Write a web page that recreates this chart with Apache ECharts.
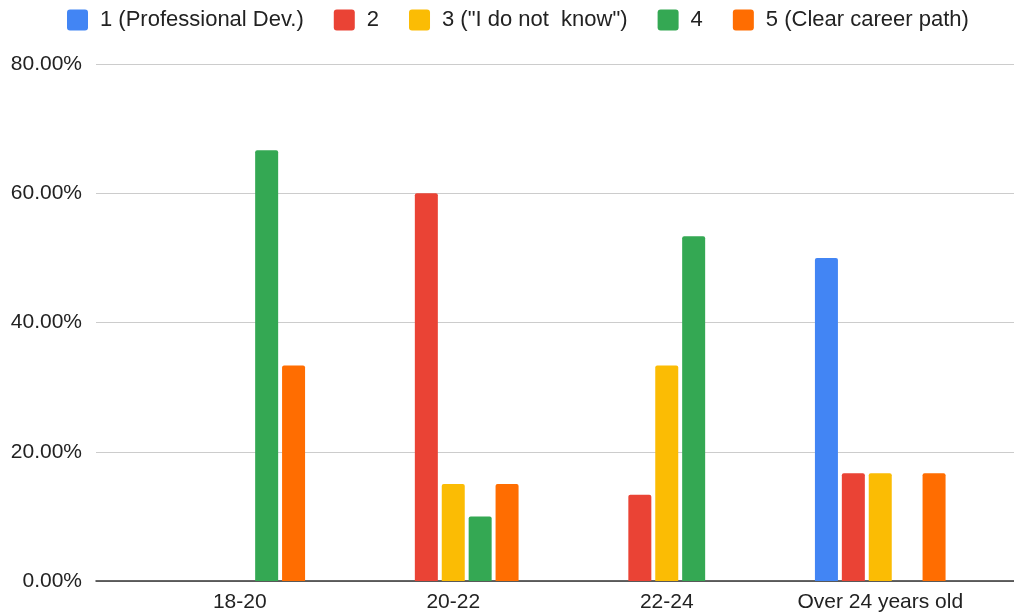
<!DOCTYPE html>
<html>
<head>
<meta charset="utf-8">
<script src="https://cdn.jsdelivr.net/npm/echarts@6/dist/echarts.min.js"></script>
<style>
  html, body { margin: 0; padding: 0; background: #fff; }
  #chart { width: 1014px; height: 614px; }
</style>
</head>
<body>
<div id="chart"></div>
<script>
// Age groups on the category axis
const categories = ['18-20', '20-22', '22-24', 'Over 24 years old'];

// Share of respondents (%) for each answer, per age group
const seriesNames = ['1 (Professional Dev.)', '2', '3 ("I do not  know")', '4', '5 (Clear career path)'];
const answer1 = [0, 0, 0, 50];
const answer2 = [0, 60, 13.33, 16.67];
const answer3 = [0, 15, 33.33, 16.67];
const answer4 = [66.67, 10, 53.33, 0];
const answer5 = [33.33, 15, 0, 16.67];

// Y axis ticks
const yTicks = [0, 20, 40, 60, 80];

const colors = ['#4285F4', '#EA4335', '#FBBC04', '#34A853', '#FF6D01'];
const values = [answer1, answer2, answer3, answer4, answer5];

const font = 'Liberation Sans, Arial, Helvetica, sans-serif';
const textColor = '#222222';

const chart = echarts.init(document.getElementById('chart'), null, { renderer: 'canvas' });

const yMin = yTicks[0];
const yMax = yTicks[yTicks.length - 1];
const yStep = yTicks[1] - yTicks[0];

chart.setOption({
  animation: false,
  backgroundColor: '#ffffff',
  color: colors,
  textStyle: { fontFamily: font },
  legend: {
    left: 62,
    top: 4,
    itemWidth: 21,
    itemHeight: 21,
    itemGap: 30,
    icon: 'path://M3,0 L18,0 Q21,0 21,3 L21,18 Q21,21 18,21 L3,21 Q0,21 0,18 L0,3 Q0,0 3,0 Z',
    textStyle: { fontSize: 22, color: textColor, fontFamily: font, padding: [0, 0, 0, 7] },
    data: seriesNames
  },
  grid: [
    // full-width frame carrying the gridlines and baseline
    { left: 96, right: 0, top: 64, bottom: 33, containLabel: false, outerBoundsMode: 'none' },
    // area holding the grouped bars
    { left: 133, right: 27, top: 64, bottom: 33, containLabel: false, outerBoundsMode: 'none' }
  ],
  xAxis: [
    {
      gridIndex: 0,
      type: 'value',
      min: 0, max: 1,
      axisLine: { show: true, onZero: false, lineStyle: { color: '#333333', width: 1.5 } },
      axisTick: { show: false },
      axisLabel: { show: false },
      splitLine: { show: false }
    },
    {
      gridIndex: 1,
      type: 'category',
      data: categories,
      axisLine: { show: false },
      axisTick: { show: false },
      axisLabel: { interval: 0, fontSize: 21, color: textColor, fontFamily: font, margin: 11 }
    }
  ],
  yAxis: [
    {
      gridIndex: 0,
      type: 'value',
      min: yMin, max: yMax, interval: yStep,
      axisLine: { show: false },
      axisTick: { show: false },
      axisLabel: {
        fontSize: 21, color: textColor, fontFamily: font, margin: 14,
        formatter: v => v.toFixed(2) + '%'
      },
      splitLine: { show: true, lineStyle: { color: '#cccccc', width: 1 } }
    },
    {
      gridIndex: 1,
      type: 'value',
      min: yMin, max: yMax, interval: yStep,
      axisLine: { show: false },
      axisTick: { show: false },
      axisLabel: { show: false },
      splitLine: { show: false }
    }
  ],
  series: seriesNames.map((name, i) => ({
    name: name,
    type: 'bar',
    xAxisIndex: 1,
    yAxisIndex: 1,
    data: values[i],
    barWidth: 23,
    barGap: '17%',
    itemStyle: { color: colors[i], borderRadius: [2, 2, 0, 0] }
  }))
});
</script>
</body>
</html>
